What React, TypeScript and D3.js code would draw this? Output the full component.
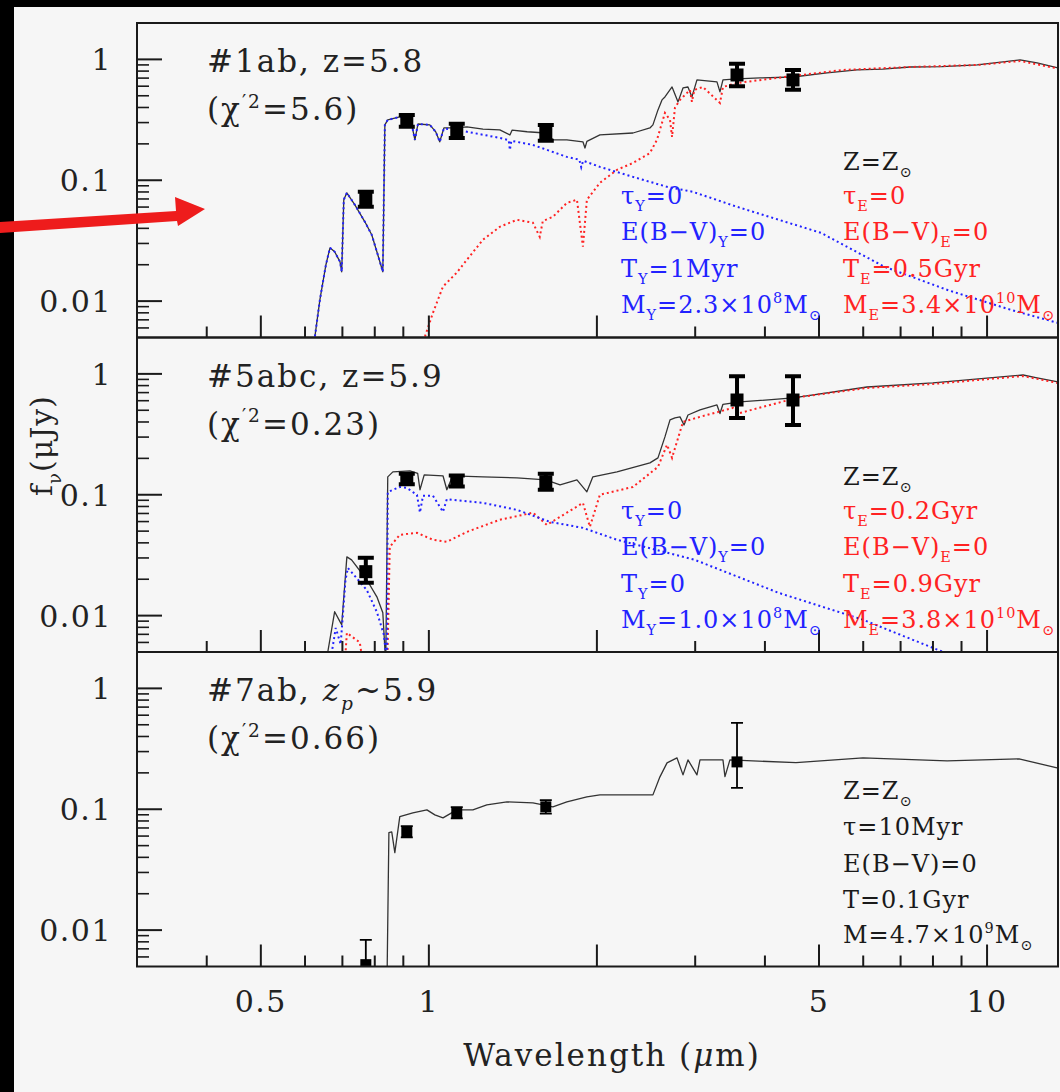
import React from "react";
import * as d3 from "d3";

// photometric bands (micron)
const bandLam = [0.771, 0.913, 1.122, 1.62, 3.565, 4.491];

// panel 1 : #1ab
const p1Total: [number, number][] = [
  [0.625, 0.0051], [0.638, 0.0103], [0.654, 0.02], [0.665, 0.0276], [0.678, 0.0256], [0.693, 0.0212],
  [0.698, 0.0175], [0.704, 0.069], [0.713, 0.0787], [0.737, 0.0626], [0.768, 0.0453], [0.79, 0.0354],
  [0.81, 0.0242], [0.827, 0.0175], [0.834, 0.287], [0.844, 0.316], [0.887, 0.334], [0.917, 0.328],
  [0.932, 0.287], [0.944, 0.216], [0.956, 0.292], [1.004, 0.287], [1.029, 0.251], [1.046, 0.208],
  [1.064, 0.271], [1.122, 0.271], [1.17, 0.276], [1.25, 0.265], [1.34, 0.261], [1.397, 0.237],
  [1.41, 0.26], [1.5, 0.252], [1.62, 0.246], [1.668, 0.216], [1.767, 0.216], [1.888, 0.208],
  [1.904, 0.185], [1.919, 0.21], [2.025, 0.237], [2.321, 0.246], [2.489, 0.271], [2.52, 0.287],
  [2.573, 0.382], [2.616, 0.462], [2.648, 0.489], [2.727, 0.591], [2.795, 0.445], [2.853, 0.58],
  [2.912, 0.591], [2.96, 0.489], [3.022, 0.676], [3.282, 0.651], [3.323, 0.538], [3.364, 0.676],
  [3.565, 0.689], [3.921, 0.702], [4.491, 0.715], [5.168, 0.772], [5.848, 0.818], [6.5, 0.83],
  [7.278, 0.865], [8.3, 0.87], [9.6, 0.899], [11.46, 0.99], [12.29, 0.934], [13.4, 0.849],
];
const p1Young: [number, number][] = [
  [0.625, 0.0051], [0.638, 0.0103], [0.654, 0.02], [0.665, 0.0276], [0.678, 0.0256], [0.693, 0.0212],
  [0.698, 0.0175], [0.704, 0.069], [0.713, 0.0787], [0.737, 0.0626], [0.768, 0.0453], [0.79, 0.0354],
  [0.81, 0.0242], [0.827, 0.0175], [0.834, 0.287], [0.844, 0.316], [0.887, 0.334], [0.917, 0.328],
  [0.932, 0.287], [0.944, 0.216], [0.956, 0.292], [1.004, 0.287], [1.029, 0.251], [1.046, 0.208],
  [1.064, 0.268], [1.122, 0.262], [1.17, 0.252], [1.34, 0.224], [1.39, 0.215], [1.397, 0.178],
  [1.405, 0.212], [1.536, 0.196], [1.767, 0.156], [1.86, 0.148], [1.875, 0.128], [1.89, 0.145],
  [2.025, 0.129], [2.321, 0.1067], [2.671, 0.0882], [2.973, 0.0802], [3.565, 0.0603], [5.041, 0.0367],
  [6.54, 0.0193], [8.48, 0.0124], [11.0, 0.0085], [13.35, 0.00663],
];
const p1Old: [number, number][] = [
  [0.984, 0.0051], [1.017, 0.008], [1.06, 0.0132], [1.122, 0.0172], [1.17, 0.022], [1.25, 0.0322],
  [1.34, 0.0412], [1.438, 0.0471], [1.536, 0.0445], [1.58, 0.034], [1.6, 0.046], [1.668, 0.0498],
  [1.767, 0.065], [1.842, 0.0689], [1.888, 0.0282], [1.919, 0.0689], [2.025, 0.0952], [2.173, 0.122],
  [2.321, 0.139], [2.489, 0.168], [2.562, 0.216], [2.616, 0.298], [2.648, 0.361], [2.704, 0.316],
  [2.727, 0.228], [2.76, 0.4], [2.818, 0.462], [2.936, 0.559], [2.96, 0.445], [2.99, 0.56],
  [3.097, 0.591], [3.323, 0.436], [3.364, 0.591], [3.565, 0.638], [4.205, 0.702], [5.522, 0.818],
  [7.278, 0.865], [9.6, 0.899], [11.46, 0.97], [13.4, 0.84],
];
const p1Flux = [0.0702, 0.31, 0.256, 0.246, 0.743, 0.676];
const p1Lo = [0.0603, 0.277, 0.224, 0.212, 0.6, 0.561];
const p1Hi = [0.0804, 0.347, 0.293, 0.287, 0.92, 0.815];

// panel 2 : #5abc
const p2Total: [number, number][] = [
  [0.659, 0.005], [0.678, 0.01077], [0.693, 0.00891], [0.698, 0.0084], [0.713, 0.0306], [0.727, 0.0289],
  [0.774, 0.0198], [0.807, 0.0143], [0.827, 0.01055], [0.837, 0.004], [0.844, 0.1406], [0.862, 0.1546],
  [0.925, 0.1576], [0.955, 0.15], [0.964, 0.11], [0.981, 0.146], [1.06, 0.1435], [1.077, 0.11],
  [1.104, 0.1435], [1.25, 0.1406], [1.438, 0.138], [1.62, 0.1328], [1.718, 0.1207], [1.842, 0.1328],
  [1.919, 0.1057], [1.967, 0.1406], [2.173, 0.1546], [2.489, 0.1836], [2.573, 0.2018], [2.648, 0.301],
  [2.704, 0.416], [2.76, 0.432], [2.818, 0.441], [2.865, 0.378], [2.912, 0.457], [3.06, 0.503],
  [3.282, 0.553], [3.323, 0.47], [3.364, 0.56], [3.609, 0.586], [4.491, 0.632], [6.095, 0.779],
  [8.0, 0.841], [11.6, 0.979], [12.29, 0.925], [13.4, 0.857],
];
const p2Young: [number, number][] = [
  [0.665, 0.004], [0.681, 0.0079], [0.695, 0.0058], [0.709, 0.0197], [0.716, 0.0248], [0.774, 0.0163],
  [0.807, 0.0107], [0.831, 0.0069], [0.841, 0.004], [0.844, 0.1052], [0.887, 0.116], [0.913, 0.114],
  [0.952, 0.0998], [0.964, 0.0713], [0.976, 0.098], [1.017, 0.0981], [1.06, 0.0722], [1.077, 0.092],
  [1.104, 0.0907], [1.25, 0.0857], [1.438, 0.075], [1.647, 0.0597], [1.888, 0.0532], [2.173, 0.0424],
  [2.997, 0.0289], [4.239, 0.0154], [5.995, 0.00925], [8.34, 0.005], [9.0, 0.004],
];
const p2Old: [number, number][] = [
  [0.7, 0.002], [0.713, 0.0072], [0.752, 0.006], [0.78, 0.002], [0.84, 0.002], [0.851, 0.037],
  [0.887, 0.0466], [0.952, 0.0484], [1.017, 0.0424], [1.077, 0.0408], [1.17, 0.0493], [1.34, 0.0621],
  [1.536, 0.071], [1.627, 0.0564], [1.767, 0.071], [1.888, 0.0857], [1.943, 0.0543], [2.025, 0.1],
  [2.321, 0.116], [2.573, 0.17], [2.671, 0.259], [2.727, 0.202], [2.853, 0.401], [3.06, 0.441],
  [3.505, 0.523], [3.609, 0.475], [4.623, 0.644], [6.095, 0.765], [8.0, 0.825], [11.6, 0.96],
  [13.4, 0.84],
];
const p2Flux = [0.0231, 0.1353, 0.13, 0.128, 0.608, 0.608];
const p2Lo = [0.0187, 0.122, 0.117, 0.11, 0.432, 0.378];
const p2Hi = [0.0301, 0.149, 0.144, 0.149, 0.957, 0.957];

// panel 3 : #7ab
const p3Total: [number, number][] = [
  [0.84, 0.002], [0.848, 0.064], [0.858, 0.065], [0.869, 0.0438], [0.887, 0.0868], [0.936, 0.0934],
  [0.992, 0.0989], [1.025, 0.0898], [1.06, 0.0849], [1.122, 0.0989], [1.199, 0.0989], [1.27, 0.1087],
  [1.38, 0.115], [1.536, 0.113], [1.668, 0.1047], [1.767, 0.115], [1.919, 0.1265], [2.025, 0.1315],
  [2.52, 0.1315], [2.594, 0.1854], [2.671, 0.242], [2.783, 0.266], [2.853, 0.1925], [2.912, 0.256],
  [3.022, 0.1925], [3.06, 0.256], [3.364, 0.256], [3.392, 0.186], [3.462, 0.256], [4.547, 0.243],
  [5.995, 0.266], [8.48, 0.251], [11.41, 0.261], [13.35, 0.22],
];
const p3Lam = [0.771, 0.913, 1.122, 1.62, 3.565];
const p3Flux = [0.00518, 0.0652, 0.0934, 0.1047, 0.2465];
const p3Lo = [0.003, 0.0585, 0.084, 0.092, 0.15];
const p3Hi = [0.0083, 0.0725, 0.104, 0.119, 0.518];

const panelNames = ["#1ab, z=5.8", "#5abc, z=5.9", "#7ab, {z}_{p}~5.9"];
const chiValues = ["5.6", "0.23", "0.66"];
const redParams = [
  ["τ_{E}=0", "E(B−V)_{E}=0", "T_{E}=0.5Gyr", "M_{E}=3.4×10^{10}M_{⊙}"],
  ["τ_{E}=0.2Gyr", "E(B−V)_{E}=0", "T_{E}=0.9Gyr", "M_{E}=3.8×10^{10}M_{⊙}"],
];
const blueParams = [
  ["τ_{Y}=0", "E(B−V)_{Y}=0", "T_{Y}=1Myr", "M_{Y}=2.3×10^{8}M_{⊙}"],
  ["τ_{Y}=0", "E(B−V)_{Y}=0", "T_{Y}=0", "M_{Y}=1.0×10^{8}M_{⊙}"],
];
const singleParams = ["τ=10Myr", "E(B−V)=0", "T=0.1Gyr", "M=4.7×10^{9}M_{⊙}"];

const xTicks = [0.4, 0.5, 0.6, 0.7, 0.8, 0.9, 1, 2, 3, 4, 5, 6, 7, 8, 9, 10];
const xMajor = [0.5, 1, 2, 5, 10];
const xLabels = [0.5, 1, 5, 10];
const yMajor = [0.01, 0.1, 1];
const yLabels = ["0.01", "0.1", "1"];

const FONT = "'DejaVu Serif', serif";
const BLUE = "#2222ff";
const RED = "#ff2222";
const INK = "#1a1a1a";

type Part = { t: string; sub?: boolean; sup?: boolean; it?: boolean };

function parse(s: string): Part[] {
  const out: Part[] = [];
  const re = /(_\{[^}]*\}|\^\{[^}]*\}|\{[^}]*\})/g;
  let last = 0;
  let m: RegExpExecArray | null;
  while ((m = re.exec(s))) {
    if (m.index > last) out.push({ t: s.slice(last, m.index) });
    const tok = m[0];
    if (tok[0] === "_") out.push({ t: tok.slice(2, -1), sub: true, it: tok.includes("p") });
    else if (tok[0] === "^") out.push({ t: tok.slice(2, -1), sup: true });
    else out.push({ t: tok.slice(1, -1), it: true });
    last = m.index + tok.length;
  }
  if (last < s.length) out.push({ t: s.slice(last) });
  return out;
}

function Rich({ x, y, s, size, fill, ls = 0 }: { x: number; y: number; s: string; size: number; fill: string; ls?: number }) {
  let shift = 0;
  return (
    <text x={x} y={y} fontSize={size} fill={fill} fontFamily={FONT} letterSpacing={ls}>
      {parse(s).map((p, i) => {
        const target = p.sub ? size * 0.3 : p.sup ? -size * 0.4 : 0;
        const dy = target - shift;
        shift = target;
        return (
          <tspan key={i} dy={dy} fontSize={p.sub || p.sup ? size * 0.6 : size} fontStyle={p.it ? "italic" : undefined}>
            {p.t}
          </tspan>
        );
      })}
    </text>
  );
}

const W = 1060;
const H = 1092;
const plotLeft = 137;
const plotRight = 1058;
const panelH = 314.5;
const panelTops = [23, 23 + panelH, 23 + 2 * panelH];

const x = d3.scaleLog().domain([0.3, 13.4]).range([plotLeft, plotRight]);

function Panel({ i }: { i: number }) {
  const top = panelTops[i];
  const y = d3.scaleLog().domain([0.005, 2]).range([top + panelH, top]);
  const line = d3
    .line<[number, number]>()
    .x((d) => x(d[0]))
    .y((d) => y(d[1]));
  const total = [p1Total, p2Total, p3Total][i];
  const young = [p1Young, p2Young, null][i];
  const old = [p1Old, p2Old, null][i];
  const lams = i === 2 ? p3Lam : bandLam;
  const flux = [p1Flux, p2Flux, p3Flux][i];
  const lo = [p1Lo, p2Lo, p3Lo][i];
  const hi = [p1Hi, p2Hi, p3Hi][i];
  const thick = i < 2;
  const clipId = `clip${i}`;

  const minor: number[] = [];
  for (let k = -3; k <= 0; k++)
    for (let m = 2; m <= 9; m++) {
      const v = m * Math.pow(10, k);
      if (v > 0.0051 && v < 1.99) minor.push(v);
    }

  return (
    <g>
      <defs>
        <clipPath id={clipId}>
          <rect x={plotLeft} y={top} width={plotRight - plotLeft} height={panelH} />
        </clipPath>
      </defs>
      <g clipPath={`url(#${clipId})`}>
        <path d={line(total) || ""} fill="none" stroke="#333" strokeWidth={1.3} strokeLinejoin="round" />
        {old && (
          <path d={line(old) || ""} fill="none" stroke={RED} strokeWidth={2} strokeDasharray="2 3" />
        )}
        {young && (
          <path d={line(young) || ""} fill="none" stroke={BLUE} strokeWidth={2} strokeDasharray="2 3" />
        )}
        {lams.map((l, j) => {
          const cx = x(l);
          const capW = thick ? 16 : 12;
          const sw = thick ? 4 : 1.8;
          const sq = thick ? 13 : 11;
          return (
            <g key={j} stroke="#000" fill="#000">
              <line x1={cx} x2={cx} y1={y(lo[j])} y2={y(hi[j])} strokeWidth={sw} />
              <line x1={cx - capW / 2} x2={cx + capW / 2} y1={y(lo[j])} y2={y(lo[j])} strokeWidth={sw} />
              <line x1={cx - capW / 2} x2={cx + capW / 2} y1={y(hi[j])} y2={y(hi[j])} strokeWidth={sw} />
              <rect x={cx - sq / 2} y={y(flux[j]) - sq / 2} width={sq} height={sq} stroke="none" />
            </g>
          );
        })}
      </g>

      {/* frame */}
      <rect x={plotLeft} y={top} width={plotRight - plotLeft} height={panelH} fill="none" stroke={INK} strokeWidth={2} />

      {/* y ticks */}
      {yMajor.map((v) => (
        <line key={v} x1={plotLeft} x2={plotLeft + 25} y1={y(v)} y2={y(v)} stroke={INK} strokeWidth={2} />
      ))}
      {minor.map((v) => (
        <line key={v} x1={plotLeft} x2={plotLeft + 12} y1={y(v)} y2={y(v)} stroke={INK} strokeWidth={1.6} />
      ))}
      {yMajor.map((v, j) => (
        <text key={v} x={112} y={y(v) + 11} textAnchor="end" fontSize={30} fontFamily={FONT} fill="#222" letterSpacing={1.5}>
          {yLabels[j]}
        </text>
      ))}

      {/* x ticks */}
      {xTicks.map((v) => {
        const len = xMajor.includes(v) ? 22 : 11;
        return (
          <line key={v} x1={x(v)} x2={x(v)} y1={top + panelH} y2={top + panelH - len} stroke={INK} strokeWidth={2} />
        );
      })}

      {/* labels */}
      <Rich x={207} y={top + 49} s={panelNames[i]} size={31} fill="#222" ls={2} />
      <Rich x={207} y={top + 97} s={`(χ^{′2}=${chiValues[i]})`} size={31} fill="#222" ls={2} />

      <Rich x={843} y={top + 147} s="Z=Z_{⊙}" size={24} fill={INK} ls={1} />
      {i < 2 &&
        redParams[i].map((s, j) => (
          <Rich key={s} x={843} y={top + [181, 217, 254, 290][j]} s={s} size={24} fill={RED} ls={1} />
        ))}
      {i < 2 &&
        blueParams[i].map((s, j) => (
          <Rich key={s} x={621} y={top + [181, 217, 254, 290][j]} s={s} size={24} fill={BLUE} ls={1} />
        ))}
      {i === 2 &&
        singleParams.map((s, j) => (
          <Rich key={s} x={843} y={top + [183, 220, 256, 291][j]} s={s} size={24} fill={INK} ls={1} />
        ))}
    </g>
  );
}

export default function App() {
  const bottom = panelTops[2] + panelH;
  return (
    <svg width={W} height={H} style={{ position: "absolute", left: 0, top: 0 }} xmlns="http://www.w3.org/2000/svg">
      <rect x={0} y={0} width={W} height={H} fill="#000" />
      <rect x={14} y={7} width={W - 14} height={H - 7} fill="#f6f6f6" />

      {[0, 1, 2].map((i) => (
        <Panel key={i} i={i} />
      ))}

      {xLabels.map((v) => (
        <text key={v} x={x(v)} y={bottom + 45} textAnchor="middle" fontSize={30} fontFamily={FONT} fill="#222" letterSpacing={1.5}>
          {v}
        </text>
      ))}

      <text x={612} y={1066} textAnchor="middle" fontSize={31} fontFamily={FONT} fill="#222" letterSpacing={2}>
        Wavelength (
        <tspan fontStyle="italic">μ</tspan>
        m)
      </text>

      <g transform="translate(52,496) rotate(-90)">
        <Rich x={0} y={0} s="f_{ν}(μJy)" size={30} fill="#222" ls={1} />
      </g>

      {/* annotation arrow */}
      <polygon points="0,222 176,211 175,197 205,209 178,226 177,221 0,233" fill="#ee1c1c" />
    </svg>
  );
}
